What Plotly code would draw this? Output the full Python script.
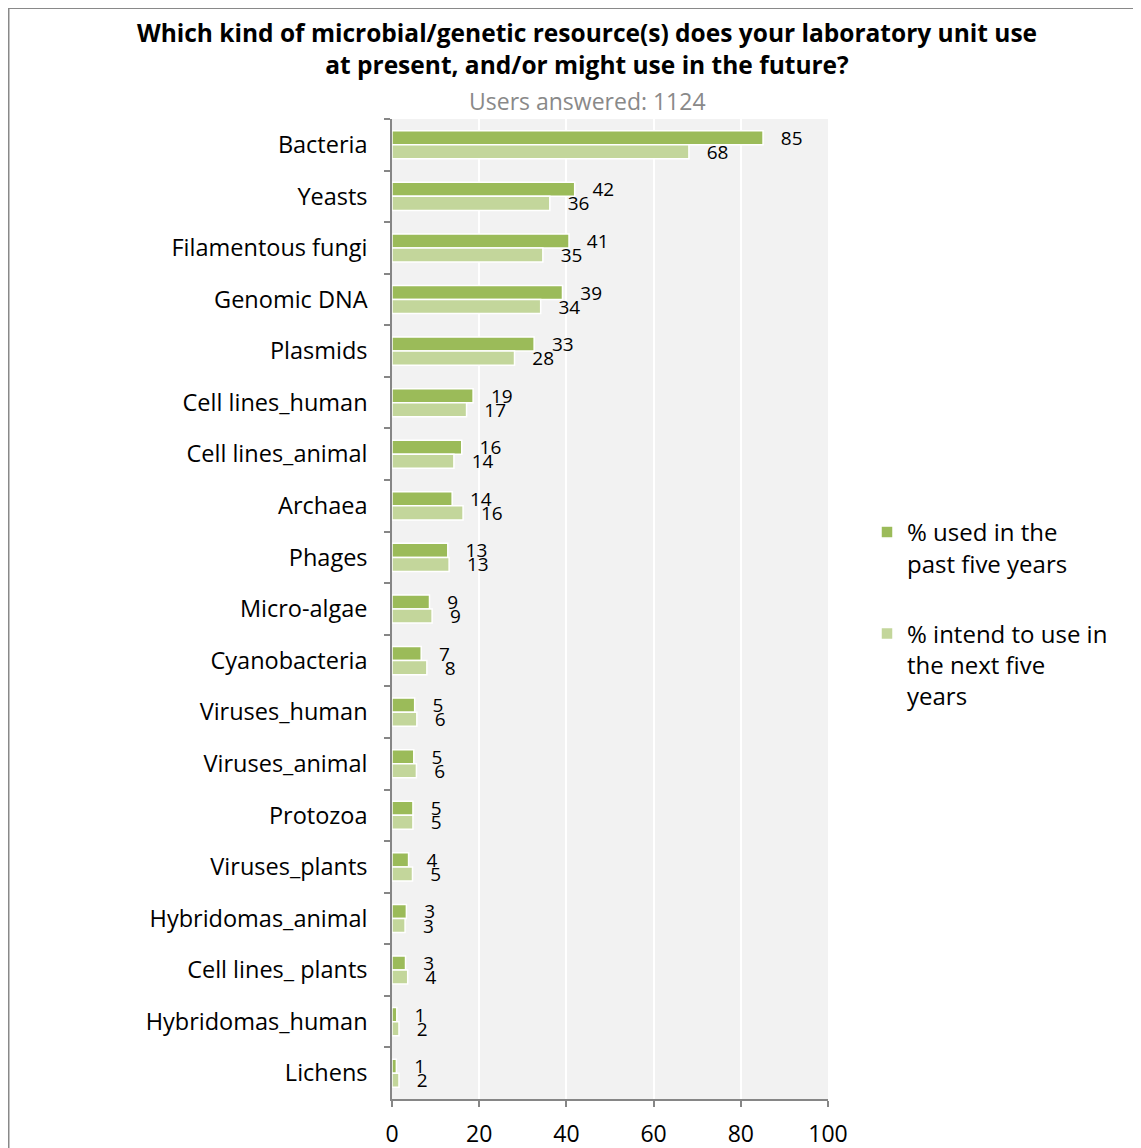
import plotly.graph_objects as go

categories = ["Bacteria", "Yeasts", "Filamentous fungi", "Genomic DNA", "Plasmids",
              "Cell lines_human", "Cell lines_animal", "Archaea", "Phages", "Micro-algae",
              "Cyanobacteria", "Viruses_human", "Viruses_animal", "Protozoa", "Viruses_plants",
              "Hybridomas_animal", "Cell lines_ plants", "Hybridomas_human", "Lichens"]
used_past = [85.1, 41.9, 40.6, 39.1, 32.6, 18.6, 16.0, 13.8, 12.8, 8.6, 6.7, 5.2, 5.0, 4.8,
             3.8, 3.3, 3.1, 1.1, 1.0]
intend_future = [68.1, 36.2, 34.6, 34.1, 28.1, 17.1, 14.2, 16.3, 13.1, 9.2, 8.0, 5.7, 5.6,
                 4.8, 4.7, 3.0, 3.6, 1.6, 1.6]
series_names = ["% used in the<br>past five years", "% intend to use in<br>the next five<br>years"]
x_ticks = [0, 20, 40, 60, 80, 100]

FONT = "Open Sans"
OFF = 8  # page body margin
W, H = 1141 - OFF, 1148 - OFF
L, T = 392 - OFF, 119 - OFF
R, B = W - (828 - OFF), H - (1099 - OFF)
PW, PH = W - L - R, H - T - B

fig = go.Figure()
for vals, name, color, grp in [(used_past, series_names[0], "#9bbb59", "a"),
                               (intend_future, series_names[1], "#c3d69b", "b")]:
    fig.add_trace(go.Bar(
        y=categories, x=vals, name=name, orientation="h", legendgroup=grp,
        marker=dict(color=color, line=dict(color="white", width=1.5)),
        texttemplate="\u00a0\u00a0\u00a0%{x:.0f}", textposition="outside",
        constraintext="none", cliponaxis=False,
        textfont=dict(family=FONT, size=19, color="#000000"),
    ))

# helpers converting page pixel positions to paper coordinates
def px_x(p):
    return (p - OFF - L) / PW

def px_y(p):
    return (H - B - (p - OFF)) / PH

fig.update_layout(
    width=W, height=H,
    margin=dict(l=L, r=R, t=T, b=B, autoexpand=False),
    paper_bgcolor="white", plot_bgcolor="#f2f2f2",
    barmode="group", bargap=0.455, bargroupgap=0,
    font=dict(family=FONT, color="#000000"),
    title=dict(
        text="<b>Which kind of microbial/genetic resource(s) does your laboratory unit use<br>at present, and/or might use in the future?</b>",
        x=px_x(587), xref="paper", xanchor="center",
        y=1 - 34 / H, yref="container", yanchor="middle",
        font=dict(family=FONT, size=24.5, color="#000000"),
    ),
    xaxis=dict(
        range=[0, 100], tickvals=x_ticks, showgrid=True, gridcolor="white", gridwidth=2,
        zeroline=False, showline=True, linecolor="#868686", linewidth=1.5,
        ticks="outside", ticklen=6, tickcolor="#868686", tickwidth=1.5,
        tickfont=dict(family=FONT, size=23, color="#000000"), ticklabelstandoff=8,
    ),
    yaxis=dict(
        categoryorder="array", categoryarray=categories, autorange="reversed",
        showline=True, linecolor="#868686", linewidth=1.5, showgrid=False,
        ticks="outside", tickson="boundaries", ticklen=6, tickcolor="#868686", tickwidth=1.5,
        tickfont=dict(family=FONT, size=23.5, color="#000000"), ticklabelstandoff=18,
    ),
    legend=dict(
        x=px_x(867), xanchor="left", y=px_y(510), yanchor="top",
        valign="top", traceorder="grouped", tracegroupgap=36,
        font=dict(family=FONT, size=24, color="#000000"), bgcolor="rgba(0,0,0,0)",
    ),
    annotations=[dict(
        text="Users answered: 1124", xref="paper", yref="paper",
        x=px_x(587), y=px_y(101), xanchor="center", yanchor="middle", showarrow=False,
        font=dict(family=FONT, size=23, color="#898989"),
    )],
    shapes=[
        dict(type="line", xref="paper", yref="paper", x0=px_x(8.5), x1=px_x(8.5),
             y0=px_y(7), y1=px_y(1200), line=dict(color="#898989", width=2)),
        dict(type="line", xref="paper", yref="paper", x0=px_x(8), x1=px_x(1200),
             y0=px_y(8), y1=px_y(8), line=dict(color="#898989", width=2)),
    ],
)

fig.write_html("out.html")
